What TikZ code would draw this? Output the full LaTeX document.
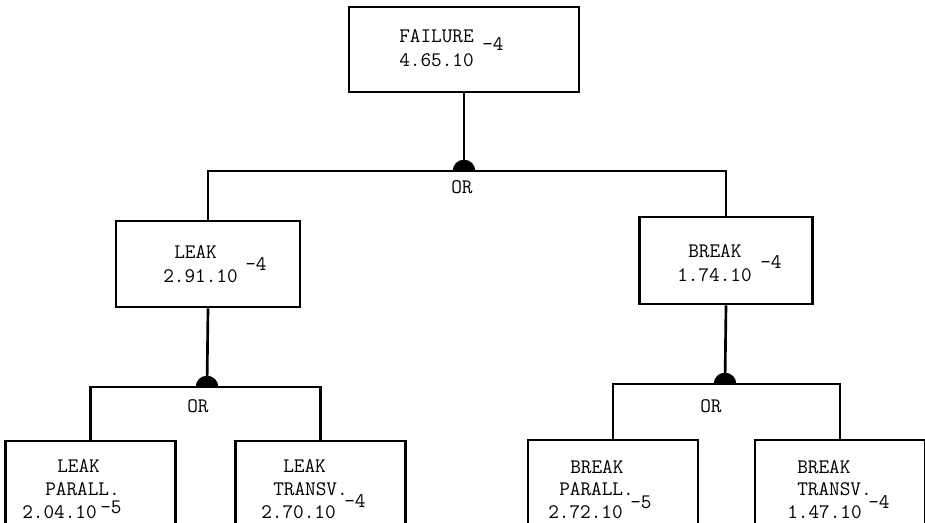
\documentclass[tikz,border=0pt]{standalone}
\usetikzlibrary{positioning}
\tikzset{
  box/.style={draw,line width=2pt,inner sep=0pt},
  leaf/.style={box,minimum width=127.5pt,minimum height=90pt},
  txt/.style={font=\ttfamily\fontsize{15.5}{18}\selectfont,inner sep=0pt,anchor=base west},
  tree/.style={line width=2pt}
}
\newcommand{\dome}[1]{\fill ([xshift=-8.5pt]#1) arc[start angle=180,end angle=0,radius=8.5pt] -- cycle;}

\begin{document}
\begin{tikzpicture}[x=0.75pt,y=-0.75pt]
\useasboundingbox (0,0) rectangle (925,522);
\clip (0,0) rectangle (925,522);
% boxes
\node[box,minimum width=172.5pt,minimum height=63.75pt] (failure) at (464,49.5) {};
\node[box,minimum width=138pt,minimum height=64.5pt] (leak) at (208,264) {};
\node[box,minimum width=129.75pt,minimum height=65.25pt] (break) at (726,260.5) {};
\node[leaf] (leakpar) at (90.5,501) {};
\node[leaf] (leaktr) at (320.5,501) {};
\node[leaf] (breakpar) at (613,500) {};
\node[leaf] (breaktr) at (840,500) {};
% gates
\coordinate (or0) at (464,171);
\coordinate (or1) at (207,387);
\coordinate (or2) at (725,384);
\draw[tree] (failure.south) -- (or0);
\draw[tree] (leak.north) |- (or0) -| (break.north);
\draw[tree] (leak.south) -- (or1);
\draw[tree] (leakpar.north) |- (or1) -| (leaktr.north);
\draw[tree] (break.south) -- (or2);
\draw[tree] (breakpar.north) |- (or2) -| (breaktr.north);
\dome{or0}
\dome{or1}
\dome{or2}
\node[txt] (or0lbl) at (451,193) {OR};
\node[txt] (or1lbl) at (187,412) {OR};
\node[txt] (or2lbl) at (700,412) {OR};
% texts
\node[txt] (failA) at (399,42) {FAILURE};
\node[txt] (failB) at (399,66) {4.65.10};
\node[txt] (failE) at (482,50) {-4};
\node[txt] (leakA) at (174,258) {LEAK};
\node[txt] (leakB) at (163,282) {2.91.10};
\node[txt] (leakE) at (245,270) {-4};
\node[txt] (breakA) at (688,257) {BREAK};
\node[txt] (breakB) at (677,281) {1.74.10};
\node[txt] (breakE) at (760,268) {-4};
\node[txt] (lpA) at (57,472) {LEAK};
\node[txt] (lpB) at (45,495) {PARALL.};
\node[txt] (lpC) at (22,518) {2.04.10};
\node[txt] (lpE) at (100,513) {-5};
\node[txt] (ltA) at (283,472) {LEAK};
\node[txt] (ltB) at (273,495) {TRANSV.};
\node[txt] (ltC) at (261,518) {2.70.10};
\node[txt] (ltE) at (344,507) {-4};
\node[txt] (bpA) at (570,473) {BREAK};
\node[txt] (bpB) at (559,495) {PARALL.};
\node[txt] (bpC) at (548,518) {2.72.10};
\node[txt] (bpE) at (630,508) {-5};
\node[txt] (btA) at (797,473) {BREAK};
\node[txt] (btB) at (797,495) {TRANSV.};
\node[txt] (btC) at (787,518) {1.47.10};
\node[txt] (btE) at (868,508) {-4};
\end{tikzpicture}
\end{document}
